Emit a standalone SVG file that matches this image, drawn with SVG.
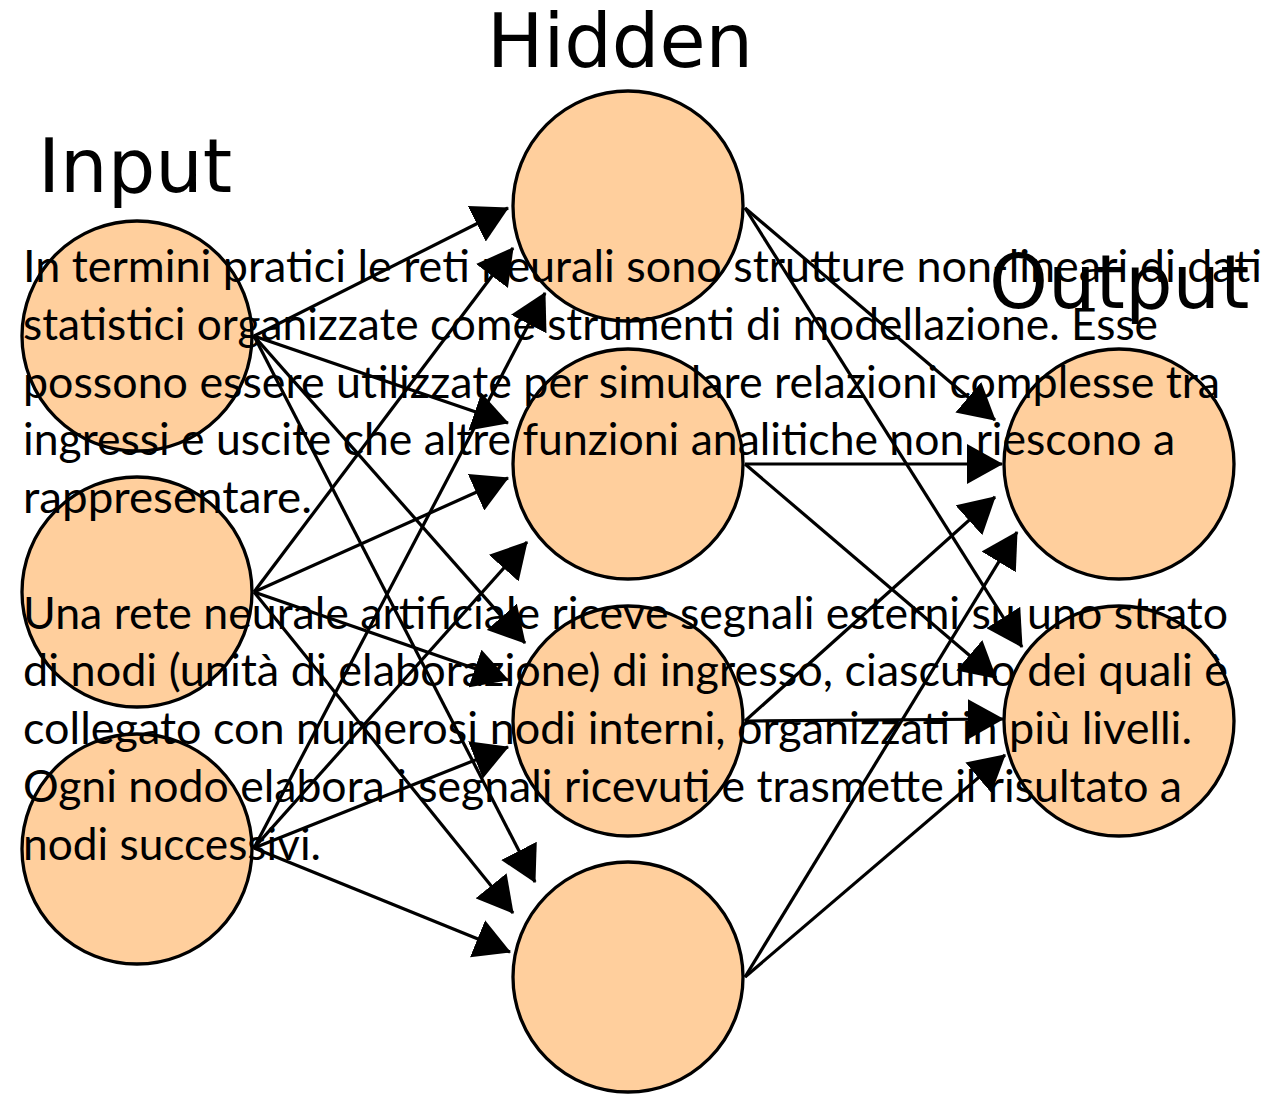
<svg xmlns="http://www.w3.org/2000/svg" width="1286" height="1098" viewBox="0 0 1286 1098">
<style>
.node{fill:#ffcf9d;stroke:#000;stroke-width:3.3}
.edge{stroke:#000;stroke-width:3.2;fill:none;marker-end:url(#arr)}
.lbl{font-family:"DejaVu Sans",sans-serif;font-size:75px;fill:#000}
.para{font-family:Lato,"Liberation Sans",sans-serif;font-size:44px;fill:#000}
</style>
<defs>
<marker id="arr" markerUnits="userSpaceOnUse" viewBox="0 0 36 40" markerWidth="36" markerHeight="40" refX="35" refY="20" orient="auto">
<path d="M0,0 L36,20 L0,40 z" fill="#000"/>
</marker>
</defs>
<rect width="1286" height="1098" fill="#fff"/>
<g id="input-1"><circle class="node" cx="137" cy="336" r="115"/></g>
<g id="input-2"><circle class="node" cx="137" cy="592" r="115"/></g>
<g id="input-3"><circle class="node" cx="137" cy="849" r="115"/></g>
<g id="hidden-1"><circle class="node" cx="628" cy="206" r="115"/></g>
<g id="hidden-2"><circle class="node" cx="628" cy="464" r="115"/></g>
<g id="hidden-3"><circle class="node" cx="628" cy="721" r="115"/></g>
<g id="hidden-4"><circle class="node" cx="628" cy="977" r="115"/></g>
<g id="output-1"><circle class="node" cx="1119" cy="464" r="115"/></g>
<g id="output-2"><circle class="node" cx="1119" cy="721" r="115"/></g>
<g id="connectors">
<line class="edge" x1="254" y1="336" x2="508" y2="208"/>
<line class="edge" x1="254" y1="336" x2="508" y2="423"/>
<line class="edge" x1="254" y1="336" x2="525" y2="643"/>
<line class="edge" x1="254" y1="336" x2="535" y2="882"/>
<line class="edge" x1="254" y1="592" x2="513" y2="248"/>
<line class="edge" x1="254" y1="592" x2="508" y2="478"/>
<line class="edge" x1="254" y1="592" x2="508" y2="680"/>
<line class="edge" x1="254" y1="592" x2="513" y2="913"/>
<line class="edge" x1="254" y1="848" x2="545" y2="293"/>
<line class="edge" x1="254" y1="848" x2="527" y2="542"/>
<line class="edge" x1="254" y1="848" x2="508" y2="747"/>
<line class="edge" x1="254" y1="848" x2="510" y2="952"/>
<line class="edge" x1="745" y1="208" x2="995" y2="420"/>
<line class="edge" x1="745" y1="208" x2="1022" y2="647"/>
<line class="edge" x1="745" y1="464" x2="1002" y2="464"/>
<line class="edge" x1="745" y1="464" x2="996" y2="678"/>
<line class="edge" x1="745" y1="721" x2="995" y2="497"/>
<line class="edge" x1="745" y1="721" x2="1003" y2="719"/>
<line class="edge" x1="745" y1="977" x2="1017" y2="532"/>
<line class="edge" x1="745" y1="977" x2="1005" y2="755"/>
</g>
<g id="labels">
<text class="lbl" x="38" y="192">Input</text>
<text class="lbl" x="487" y="67">Hidden</text>
<text class="lbl" x="989" y="308">Output</text>
</g>
<g id="paragraph">
<text class="para" x="23" y="282" textLength="1239" lengthAdjust="spacingAndGlyphs">In termini pratici le reti neurali sono strutture non-lineari di dati</text>
<text class="para" x="23" y="340" textLength="1135" lengthAdjust="spacingAndGlyphs">statistici organizzate come strumenti di modellazione. Esse</text>
<text class="para" x="23" y="398" textLength="1197" lengthAdjust="spacingAndGlyphs">possono essere utilizzate per simulare relazioni complesse tra</text>
<text class="para" x="23" y="455" textLength="1152" lengthAdjust="spacingAndGlyphs">ingressi e uscite che altre funzioni analitiche non riescono a</text>
<text class="para" x="23" y="513" textLength="289" lengthAdjust="spacingAndGlyphs">rappresentare.</text>
<text class="para" x="23" y="629" textLength="1205" lengthAdjust="spacingAndGlyphs">Una rete neurale artificiale riceve segnali esterni su uno strato</text>
<text class="para" x="23" y="686" textLength="1205" lengthAdjust="spacingAndGlyphs">di nodi (unità di elaborazione) di ingresso, ciascuno dei quali è</text>
<text class="para" x="23" y="744" textLength="1169" lengthAdjust="spacingAndGlyphs">collegato con numerosi nodi interni, organizzati in più livelli.</text>
<text class="para" x="23" y="802" textLength="1159" lengthAdjust="spacingAndGlyphs">Ogni nodo elabora i segnali ricevuti e trasmette il risultato a</text>
<text class="para" x="23" y="860" textLength="298" lengthAdjust="spacingAndGlyphs">nodi successivi.</text>
</g>
</svg>
